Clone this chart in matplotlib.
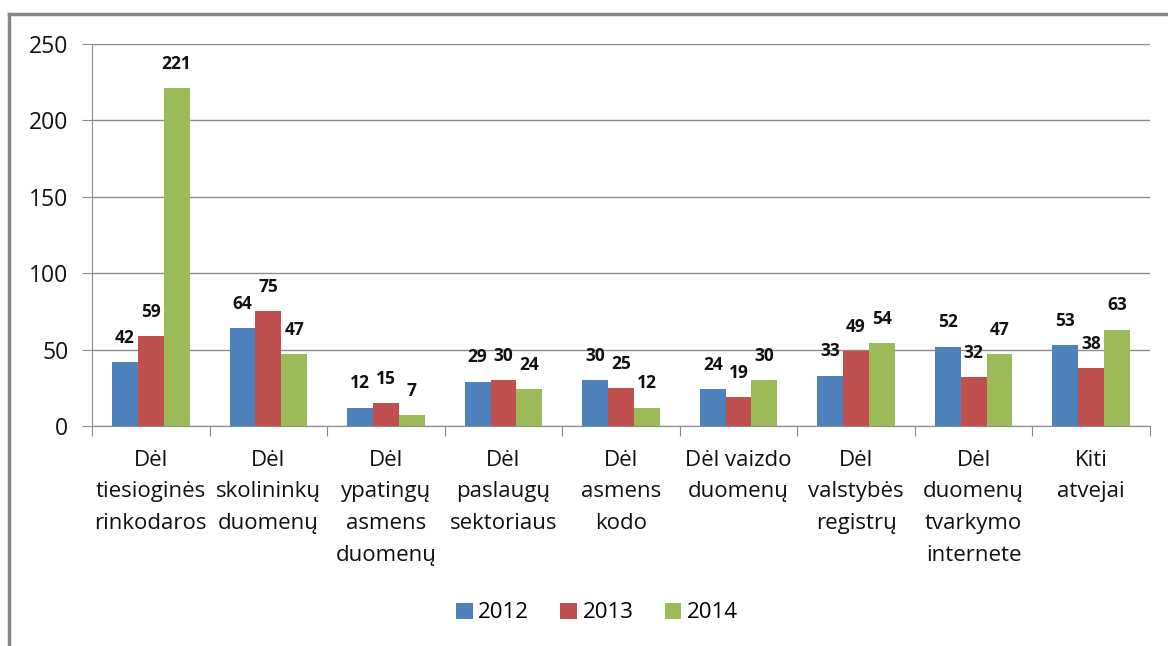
import matplotlib
matplotlib.use("Agg")
import matplotlib.pyplot as plt
import numpy as np
from matplotlib.lines import Line2D
from matplotlib.patches import Patch

categories = ["Dėl\ntiesioginės\nrinkodaros", "Dėl\nskolininkų\nduomenų",
              "Dėl\nypatingų\nasmens\nduomenų", "Dėl\npaslaugų\nsektoriaus",
              "Dėl\nasmens\nkodo", "Dėl vaizdo\nduomenų", "Dėl\nvalstybės\nregistrų",
              "Dėl\nduomenų\ntvarkymo\ninternete", "Kiti\natvejai"]
years = ["2012", "2013", "2014"]
v2012 = [42, 64, 12, 29, 30, 24, 33, 52, 53]
v2013 = [59, 75, 15, 30, 25, 19, 49, 32, 38]
v2014 = [221, 47, 7, 24, 12, 30, 54, 47, 63]
series = [v2012, v2013, v2014]
colors = ["#4F81BD", "#C0504D", "#9BBB59"]

plt.rcParams['font.family'] = ['Open Sans', 'DejaVu Sans']
fig = plt.figure(figsize=(11.68, 6.46), dpi=100)
W, H = 1168, 646
ax = fig.add_axes([92 / W, 1 - 426 / H, (1150 - 92) / W, (426 - 44) / H])

n = len(categories)
x = np.arange(n)
bw = 0.22
for i, (vals, c) in enumerate(zip(series, colors)):
    xs = x + (i - 1) * bw
    ax.bar(xs, vals, width=bw, color=c, zorder=3, label=years[i])
    for xi, v in zip(xs, vals):
        ax.annotate(str(v), (xi, v), xytext=(0, 11), textcoords="offset points",
                    ha="center", va="bottom", fontsize=12.5, fontweight="bold",
                    color="#111111")

ax.set_xlim(-0.5, n - 0.5)
ax.set_ylim(0, 250)
ax.set_yticks(range(0, 251, 50))
ax.yaxis.grid(True, color="#8c8c8c", linewidth=1, zorder=0)
ax.set_axisbelow(True)
for s in ["top", "right"]:
    ax.spines[s].set_visible(False)
ax.spines["left"].set_color("#8c8c8c")
ax.spines["bottom"].set_color("#8c8c8c")
ax.tick_params(axis="y", length=7, color="#8c8c8c", labelsize=16.5, pad=10, labelcolor="#111111")
ax.set_xticks(np.arange(-0.5, n, 1.0))
ax.set_xticklabels([])
ax.tick_params(axis="x", length=7, color="#8c8c8c")
ax.set_xticks(x, minor=True)
ax.set_xticklabels(categories, minor=True, fontsize=16, linespacing=1.68, color="#111111")
ax.tick_params(axis="x", which="minor", length=0, pad=17)

handles = [Patch(facecolor=c, edgecolor="none") for c in colors]
fig.legend(handles, years, loc="center", bbox_to_anchor=(597 / W, 1 - 613 / H),
           ncol=3, frameon=False, fontsize=16, handlelength=0.75, handleheight=0.75,
           handletextpad=0.25, columnspacing=1.4)

# outer frame (clipped on right and bottom)
fig.add_artist(Line2D([9 / W, 1.0], [1 - 14 / H, 1 - 14 / H], color="#888888", linewidth=2.5))
fig.add_artist(Line2D([9 / W, 9 / W], [1 - 14 / H, 0], color="#888888", linewidth=2.5))

fig.savefig("out.png", dpi=100)
